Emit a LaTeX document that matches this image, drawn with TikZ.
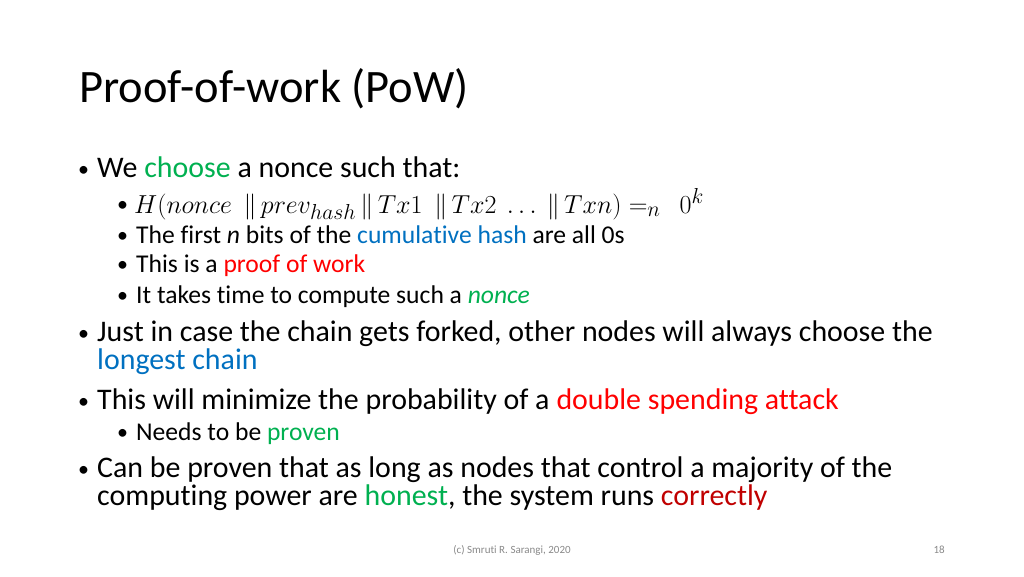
\documentclass[tikz,border=0pt]{standalone}
\usepackage{graphicx}
\usepackage[no-math]{fontspec}
\setmainfont{Carlito}[Ligatures=NoCommon]
\usepackage{xcolor}
\definecolor{pgreen}{HTML}{00B050}
\definecolor{pblue}{HTML}{0070C0}
\definecolor{pred}{HTML}{FF0000}
\definecolor{pdark}{HTML}{C00000}
\definecolor{pgray}{HTML}{898989}

\begin{document}
\begin{tikzpicture}[x=1pt,y=-1pt,
    txt/.style={anchor=base west,inner sep=0pt},
    title/.style={txt,font=\fontsize{46.5}{54}\selectfont},
    lone/.style={txt,font=\fontsize{29.9}{36}\selectfont},
    ltwo/.style={txt,font=\fontsize{25.6}{30}\selectfont},
    mth/.style={txt,font=\fontsize{24.88}{30}\selectfont},
    dot/.style={txt,font=\fontsize{22}{26}\selectfont},
    foot/.style={inner sep=0pt,text=pgray,font=\fontsize{11}{13}\selectfont}]
        \useasboundingbox (0,0) rectangle (1024,576);
        \node[title] (title) at (79,102) {Proof-of-work (PoW)};
        % bullets
        \foreach \x/\y [count=\i] in {78/176, 117/211, 117/242, 117/271, 117/302,
                                      78/340, 78/408, 117/439, 78/476}
        \node[dot] (b\i) at (\x,\y) {\textbullet};
        \node[lone] (choose) at (97,177) {We \textcolor{pgreen}{choose} a nonce such that:};
        \node[mth] (hash) at (134,213) {\scalebox{1.045}{$H(nonce\ \ \| \,prev_{hash} \,\|\, Tx1\ \ \|\, Tx2\ \dots\ \|\, Txn) =_n\ \ 0^k$}};
        \node[ltwo] (first) at (136,243) {The first \textit{n} bits of the \textcolor{pblue}{cumulative hash} are all 0s};
        \node[ltwo] (proof) at (136,272) {This is a \textcolor{pred}{proof of work}};
        \node[ltwo] (time) at (136,303) {It takes time to compute such a \textcolor{pgreen}{\textit{nonce}}};
        \node[lone] (fork) at (97,341) {Just in case the chain gets forked, other nodes will always choose the};
        \node[lone] (longest) at (97,369) {\textcolor{pblue}{longest chain}};
        \node[lone] (spend) at (97,409) {This will minimize the probability of a \textcolor{pred}{double spending attack}};
        \node[ltwo] (needs) at (136,440) {Needs to be \textcolor{pgreen}{proven}};
        \node[lone] (major) at (97,477) {Can be proven that as long as nodes that control a majority of the};
        \node[lone] (power) at (97,505) {computing power are \textcolor{pgreen}{honest}, the system runs \textcolor{pdark}{correctly}};
        \node[foot,anchor=base] (author) at (512,553) {(c) Smruti R. Sarangi, 2020};
        \node[foot,anchor=base east] (page) at (945,553) {18};
\end{tikzpicture}
\end{document}
